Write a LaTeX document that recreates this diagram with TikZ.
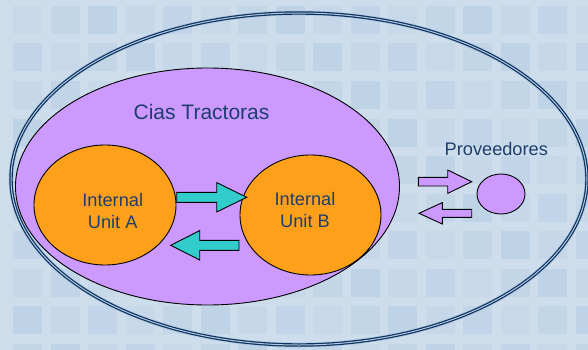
\documentclass[tikz,border=0pt]{standalone}
\usepackage{fontspec}
\setmainfont{Liberation Sans}
\usetikzlibrary{shapes.geometric,calc}
\definecolor{bgc}{RGB}{206,221,236}
\definecolor{tilec}{RGB}{180,204,228}
\definecolor{purp}{RGB}{204,153,255}
\definecolor{orng}{RGB}{255,160,26}
\definecolor{tealc}{RGB}{51,204,204}
\definecolor{txtb}{RGB}{30,62,110}
\definecolor{ringc}{RGB}{12,50,95}
\definecolor{ringl}{RGB}{178,200,224}
\newcommand{\blockarrow}[6]{%
  \draw[#1] let \p1=(#2), \p2=(#3), \n1={ifthenelse(\x2>\x1,1,-1)} in
    (\x1,{\y1+#4}) -- ({\x2-\n1*#6},{\y1+#4}) -- ({\x2-\n1*#6},{\y1+#5})
    -- (\x2,\y1) -- ({\x2-\n1*#6},{\y1-#5}) -- ({\x2-\n1*#6},{\y1-#4})
    -- (\x1,{\y1-#4}) -- cycle;}
\begin{document}
\begin{tikzpicture}[x=1pt,y=-1pt,
  oval/.style={ellipse, draw=black, line width=0.9pt, inner sep=0pt},
  lbl/.style={text=txtb, inner sep=0pt, anchor=base},
  unittext/.style={lbl, font=\fontsize{18.2}{22}\selectfont},
  tealarrow/.style={fill=tealc, draw=black, line width=0.9pt, line join=miter},
  purparrow/.style={fill=purp, draw=black, line width=0.9pt, line join=miter}]
\useasboundingbox (0,0) rectangle (588,350);
\begin{scope}
\clip (0,0) rectangle (588,350);
\fill[bgc] (0,0) rectangle (588,350);
\foreach \i in {0,...,15} \foreach \j in {0,...,9} {
  \pgfmathsetmacro\op{0.25+0.3*mod(\i*7+\j*13,5)/4}
  \fill[tilec, opacity=\op] (13+\i*37.5, 6+\j*37.5) rectangle ++(29,28);
}
\end{scope}
% outer ring
\node[ellipse, draw=ringl, line width=5pt, minimum width=576pt, minimum height=332pt, inner sep=0pt] (outerhalo) at (299,179) {};
\node[ellipse, draw=ringc, line width=1.2pt, double=ringl, double distance=1pt, minimum width=576pt, minimum height=332pt, inner sep=0pt] (outer) at (299,179) {};
% Cias Tractoras
\node[oval, fill=purp, minimum width=384pt, minimum height=237pt] (cias) at (207.5,186.5) {};
\node[lbl, font=\fontsize{21}{25}\selectfont] (ciasl) at (201.5,119.3) {Cias Tractoras};
% units
\node[oval, fill=orng, minimum width=142pt, minimum height=120pt] (unitA) at (105,205) {};
\node[oval, fill=orng, minimum width=141pt, minimum height=120pt] (unitB) at (310.5,215) {};
\node[unittext] (tA1) at (112.7,206) {Internal};
\node[unittext] (tA2) at (112.7,228.3) {Unit A};
\node[unittext] (tB1) at (305,205.7) {Internal};
\node[unittext] (tB2) at (305,227.5) {Unit B};
% proveedores
\node[oval, fill=purp, minimum width=48pt, minimum height=40pt] (prov) at (501,194) {};
\node[lbl, font=\fontsize{18.2}{22}\selectfont] (provl) at (496.3,155) {Proveedores};
% arrow end points
\coordinate (a1s) at (176.7,197.3);
\coordinate (a1t) at (246.7,197.3);
\coordinate (a2s) at (239,245.3);
\coordinate (a2t) at (170.7,245.3);
\coordinate (p1s) at (418.3,181.7);
\coordinate (p1t) at (471.7,181.7);
\coordinate (p2s) at (471.7,213.3);
\coordinate (p2t) at (419,213.3);
\blockarrow{tealarrow}{a1s}{a1t}{5pt}{14.7pt}{30pt}
\blockarrow{tealarrow}{a2s}{a2t}{5pt}{14.7pt}{29pt}
\blockarrow{purparrow}{p1s}{p1t}{4.3pt}{11.7pt}{24pt}
\blockarrow{purparrow}{p2s}{p2t}{4pt}{10.7pt}{23.3pt}
\end{tikzpicture}
\end{document}
